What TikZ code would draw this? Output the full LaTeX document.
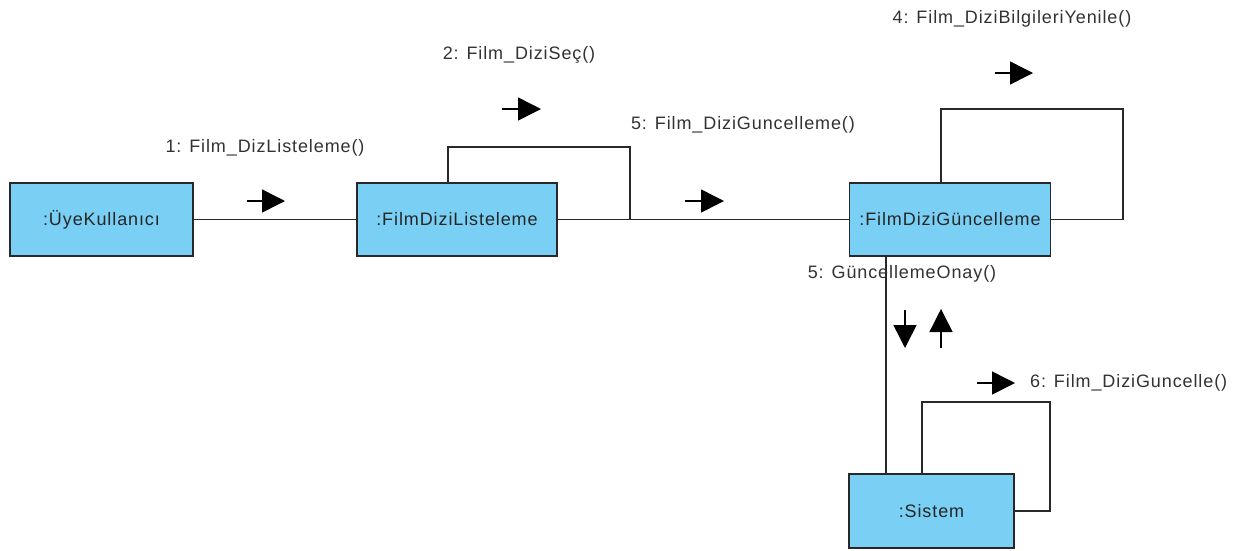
\documentclass[tikz,border=0pt]{standalone}
\usepackage{fontspec}
\setmainfont{Liberation Sans}[LetterSpace=5]
\usetikzlibrary{arrows.meta}
\definecolor{boxfill}{RGB}{122,207,245}
\definecolor{lineclr}{RGB}{40,40,40}
\definecolor{txtclr}{RGB}{50,50,50}
\tikzset{
  objbox/.style={draw=lineclr, line width=1.6pt, fill=boxfill, inner sep=0pt,
    font=\fontsize{18}{21}\selectfont, text=black!85},
  link/.style={draw=lineclr, line width=1.5pt},
  msg/.style={draw=black, line width=1.5pt, -{Triangle[length=23pt,width=23pt]}},
  lbl/.style={font=\fontsize{18}{21}\selectfont, text=txtclr, inner sep=0pt}
}
\begin{document}
\begin{tikzpicture}[x=1pt,y=-1pt]
\useasboundingbox (0,0) rectangle (1241,550);
% objects
\node[objbox, minimum width=183pt, minimum height=73pt] (uye) at (101.5,219.5) {:ÜyeKullanıcı};
\node[objbox, minimum width=200pt, minimum height=73pt] (fdl) at (457,219.5) {:FilmDiziListeleme};
\node[objbox, minimum width=201pt, minimum height=73pt] (fdg) at (950,219.5) {:FilmDiziGüncelleme};
\node[objbox, minimum width=165pt, minimum height=74pt] (sis) at (931.5,511) {:Sistem};
% helper coordinates
\coordinate (l1a) at (448,147);
\coordinate (l1b) at (630,147);
\coordinate (l2a) at (941,109);
\coordinate (l2b) at (1123,109);
\coordinate (l3a) at (922,402);
\coordinate (l3b) at (1050,402);
\coordinate (vx) at (886,0);
% links
\draw[link] (uye.east) -- (fdl.west);
\draw[link] (fdl.east) -- (fdg.west);
\draw[link] (fdl.north -| l1a) -- (l1a) -- (l1b) -- (l1b |- fdl.east);
\draw[link] (fdg.north -| l2a) -- (l2a) -- (l2b) -- (l2b |- fdg.east) -- (fdg.east);
\draw[link] (sis.north -| l3a) -- (l3a) -- (l3b) -- (l3b |- sis.east) -- (sis.east);
\draw[link] (fdg.south -| vx) -- (sis.north -| vx);
% message arrows
\coordinate (a1s) at (247,201); \coordinate (a1e) at (285,201);
\coordinate (a2s) at (502,109); \coordinate (a2e) at (541,109);
\coordinate (a5s) at (685,201); \coordinate (a5e) at (724,201);
\coordinate (a4s) at (995,73); \coordinate (a4e) at (1033,73);
\coordinate (a6s) at (977,383); \coordinate (a6e) at (1015,383);
\coordinate (ads) at (905,310); \coordinate (ade) at (905,348);
\coordinate (aus) at (941,348); \coordinate (aue) at (941,309);
\draw[msg] (a1s) -- (a1e);
\draw[msg] (a2s) -- (a2e);
\draw[msg] (a5s) -- (a5e);
\draw[msg] (a4s) -- (a4e);
\draw[msg] (a6s) -- (a6e);
\draw[msg] (ads) -- (ade);
\draw[msg] (aus) -- (aue);
% labels
\node[lbl] (t1) at (265,148) {1: Film\_DizListeleme()};
\node[lbl] (t2) at (519,55) {2: Film\_DiziSeç()};
\node[lbl] (t5) at (743,125) {5: Film\_DiziGuncelleme()};
\node[lbl] (t4) at (1012,19) {4: Film\_DiziBilgileriYenile()};
\node[lbl] (t5b) at (902,274) {5: GüncellemeOnay()};
\node[lbl, anchor=west] (t6) at (1030,383) {6: Film\_DiziGuncelle()};
\end{tikzpicture}
\end{document}
